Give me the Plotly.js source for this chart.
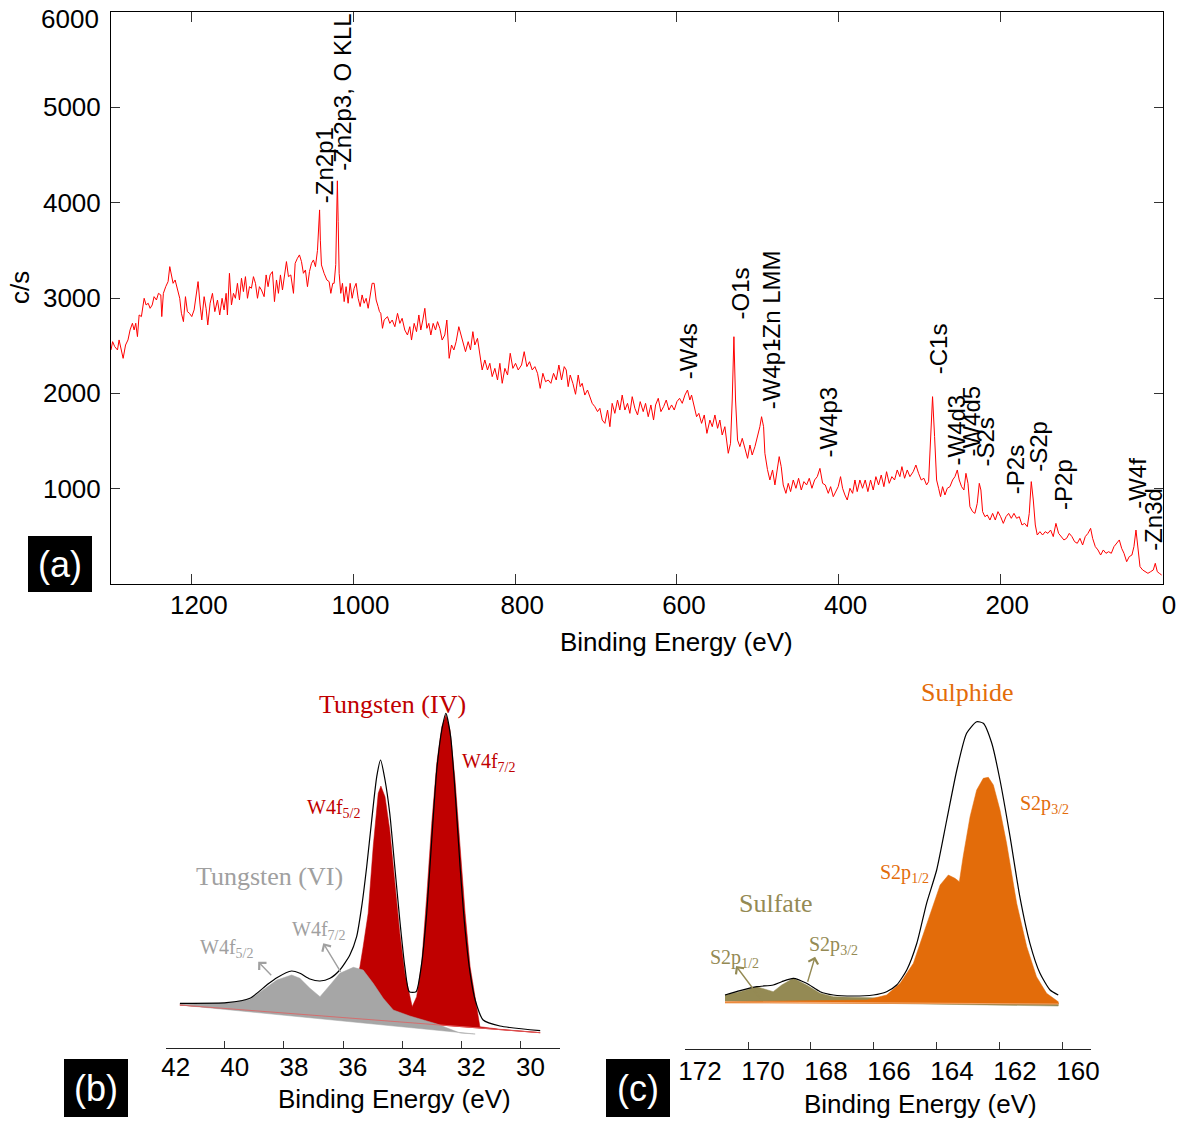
<!DOCTYPE html>
<html><head><meta charset="utf-8">
<script src="https://cdn.plot.ly/plotly-3.0.1.min.js"></script>
<style>html,body{margin:0;padding:0;background:#fff}</style>
</head><body><div id="chart" style="width:1177px;height:1124px"></div>
<script>
// ---------- (a) survey spectrum ----------
const surveyEV = [
1300.0,1298.0,1295.4,1292.0,1290.0,1287.0,1285.0,1282.0,1279.0,1276.4,
1273.5,1271.4,1269.4,1267.3,1265.2,1262.4,1259.0,1256.6,1254.0,1251.6,
1249.0,1246.7,1243.8,1241.3,1238.4,1237.2,1235.2,1232.3,1229.4,1227.3,
1225.2,1223.2,1220.7,1217.8,1215.0,1212.9,1210.4,1207.9,1205.5,1203.0,
1200.1,1197.2,1194.7,1192.3,1189.8,1187.7,1184.8,1182.4,1180.3,1177.4,
1174.5,1171.6,1168.3,1165.5,1162.6,1160.1,1157.6,1156.0,1153.5,1151.0,
1148.5,1146.1,1143.6,1141.1,1138.6,1136.2,1133.7,1131.2,1128.7,1126.3,
1123.8,1121.3,1118.8,1116.4,1113.9,1110.6,1108.1,1105.7,1103.2,1100.3,
1097.8,1095.3,1092.9,1090.4,1087.9,1085.4,1083.0,1080.5,1077.6,1074.3,
1072.2,1069.4,1066.9,1064.4,1062.0,1059.5,1057.0,1054.5,1052.0,1049.6,
1047.1,1044.6,1043.0,1042.0,1041.0,1039.7,1036.4,1033.0,1030.2,1028.1,
1025.7,1024.0,1022.0,1021.0,1020.0,1019.0,1017.8,1015.8,1013.7,1011.6,
1009.2,1006.7,1004.2,1001.7,999.3,996.8,994.3,991.8,989.4,986.9,
984.4,981.9,979.5,977.0,974.5,972.0,969.6,967.9,966.3,964.2,
962.1,958.0,955.1,952.2,948.9,945.6,942.7,939.9,936.6,933.3,
930.4,928.3,925.0,922.1,919.2,916.8,914.3,911.8,909.3,906.9,
904.4,901.5,898.6,896.1,893.3,890.4,887.1,884.6,881.7,878.8,
875.9,873.1,869.8,867.3,864.4,861.5,858.2,855.3,852.4,850.0,
846.7,843.8,840.9,837.6,834.3,831.4,828.5,825.2,821.9,819.0,
816.1,812.8,809.5,806.2,802.9,799.6,796.3,792.2,788.9,785.6,
782.3,779.0,775.7,772.4,769.1,765.8,762.5,759.2,755.9,752.6,
749.3,746.0,742.7,739.4,736.9,734.5,732.0,728.7,725.4,722.1,
719.6,717.2,713.9,710.6,707.7,704.8,701.5,698.2,695.3,692.4,
689.1,685.8,682.9,680.1,676.8,673.5,670.6,667.7,664.4,661.1,
658.2,655.3,652.0,648.7,645.4,641.7,638.8,635.5,632.2,628.9,
626.4,623.1,619.8,616.5,613.2,609.9,606.6,603.3,600.0,596.7,
593.4,590.1,586.9,584.0,581.9,578.6,575.7,572.9,569.5,566.2,
562.9,559.2,556.3,553.0,549.7,546.9,544.0,540.7,538.6,536.5,
533.7,531.6,529.5,527.5,525.0,522.1,519.2,515.9,512.6,509.7,
506.9,503.5,500.2,497.4,495.3,492.8,491.2,488.0,485.0,481.7,
478.8,475.9,473.5,471.0,468.5,465.2,462.3,459.4,456.1,452.8,
449.5,446.2,442.9,439.6,436.3,433.0,429.7,426.4,423.1,419.8,
416.5,412.8,409.9,406.6,403.3,400.5,397.6,395.1,392.2,389.3,
386.0,382.7,379.8,377.0,373.7,370.4,367.1,363.8,360.5,357.2,
353.9,350.6,347.3,344.0,340.7,337.4,334.1,330.8,327.5,324.2,
321.7,318.4,315.1,311.8,307.7,304.4,301.1,297.8,294.5,291.2,
288.7,286.2,283.8,281.3,278.8,276.3,273.9,271.4,268.5,265.6,
262.3,259.0,256.1,253.2,250.8,247.9,245.0,242.5,240.0,237.6,
234.3,231.4,228.5,226.0,224.0,221.9,219.0,216.1,212.8,209.5,
206.2,202.9,199.6,196.3,193.0,189.7,186.4,183.1,179.8,176.5,
173.2,169.9,166.6,164.2,161.7,159.2,156.7,154.3,151.0,147.7,
144.4,141.1,137.8,134.5,131.2,127.9,124.6,121.3,118.0,114.7,
111.4,108.1,104.8,101.5,98.2,94.9,91.6,88.3,85.8,82.5,
79.2,75.9,72.6,69.3,66.0,62.7,59.4,56.1,52.8,49.9,
47.0,43.7,40.5,37.2,34.7,32.2,29.7,27.2,23.9,20.6,
17.4,14.1,10.8,8.3,5.8,3.3,0.4];
const surveyCPS = [
2455,2542,2490,2455,2560,2455,2367,2507,2560,2665,
2735,2665,2735,2595,2822,2805,2997,2927,2945,2892,
2927,3014,2979,3049,3032,2805,3049,3119,3172,3329,
3224,3154,3189,3084,2997,2840,2752,3014,2857,2840,
2805,2875,3014,3172,2927,2770,3014,2892,2717,2945,
3049,2857,2979,2822,2997,2875,3049,2822,3259,2927,
3049,2997,3154,2979,3207,3067,3224,2997,3119,3102,
3224,3154,2997,3119,3084,3014,3242,3119,3242,3277,
2962,3189,3049,3242,3084,3224,3382,3224,3242,3049,
3364,3417,3452,3382,3259,3294,3119,3277,3364,3399,
3329,3500,3750,3924,3600,3347,3259,3189,3172,3049,
3154,3154,3350,3900,4229,3800,3259,3049,3154,2962,
3119,2945,3154,2997,3102,3154,2997,2910,3032,2945,
2997,2892,3049,3154,3154,2979,2910,2857,2840,2682,
2770,2804,2734,2769,2699,2839,2734,2787,2664,2612,
2699,2559,2734,2647,2822,2664,2769,2892,2682,2734,
2612,2734,2664,2752,2682,2559,2612,2769,2367,2507,
2455,2542,2699,2612,2524,2437,2542,2455,2647,2507,
2577,2420,2245,2350,2245,2315,2175,2262,2140,2315,
2105,2262,2192,2420,2262,2315,2245,2297,2437,2280,
2332,2245,2280,2210,2052,2210,2122,2140,2105,2210,
2140,2297,2140,2280,2245,2070,2192,2105,1990,2192,
2070,2105,1982,2035,1965,1895,1860,1808,1843,1720,
1685,1825,1650,1895,1790,1930,1825,1982,1825,1895,
1790,1965,1843,1773,1913,1808,1895,1755,1878,1720,
1878,1948,1808,1860,1930,1825,1878,1825,1913,1948,
1895,1982,2035,1930,1982,1843,1755,1790,1685,1773,
1580,1720,1650,1773,1633,1720,1563,1650,1510,1371,
1476,1930,2594,1930,1510,1441,1528,1406,1318,1458,
1353,1441,1545,1650,1755,1650,1371,1200,1091,1196,
1039,1196,1336,1231,1039,951,1056,969,1091,1004,
1109,986,1074,1039,1109,1004,1091,1126,1213,1056,
1039,951,1021,916,969,1021,1126,1004,934,881,
1004,951,1091,969,1091,1004,1091,969,1091,986,
1126,1039,1143,1021,1178,1056,1126,1091,1196,1126,
1231,1109,1196,1126,1178,1248,1161,1091,1109,1039,
1074,1546,1965,1546,1091,1004,916,1021,934,1004,
1021,1091,1126,1196,1091,1021,986,1161,1056,811,
759,741,846,1056,986,759,706,724,671,741,
671,759,706,636,706,741,689,741,689,706,
619,636,601,741,1074,881,619,514,549,514,
549,531,566,497,636,531,497,462,479,531,
497,444,427,479,409,497,531,584,479,392,
357,304,357,322,339,322,392,427,462,374,
322,234,287,304,392,566,392,182,147,129,
112,129,147,217,129,112,94];
const surveyTicks = [0,200,400,600,800,1000,1200];
const cpsTicks = [1000,2000,3000,4000,5000,6000];
const cpsTickText = ['1000','2000','3000','4000','5000',''];
const peakNames = ['-Zn2p1','-Zn2p3, O KLL','-W4s','-O1s','-W4p1','-Zn LMM','-W4p3','-C1s','-W4d3','-W4d5','-S2s','-P2s','-S2p','-P2p','-W4f','-Zn3d'];
const peakLabelEV = [1035,1013,585.6,521,483.6,483,413,277,253.6,235,217.7,181,153,122,30.5,10.7];
const peakLabelCPS = [3976,4308,2122,2752,1807,2465,1301,2175,1227,1311,1206,923,1154,755,766,325];

// ---------- (b) W4f region ----------
const w4fTicks = [30,32,34,36,38,40,42];
const bBaseEV = [41.52,29.33];
const bBaseY = [43,15.3];
const bRedEV = [41.52,37.46,36.44,35.93,35.60,35.43,35.32,35.15,34.98,34.81,34.72,34.58,34.42,34.25,34.08,33.91,33.74,33.66,33.51,33.34,33.17,33.00,32.83,32.66,32.52,32.38,32.21,32.04,31.87,31.70,31.53,31.37,30.69,29.33];
const bRedY = [43,36,40,48,63,81.3,101.3,134.7,201.3,254.7,262,251.3,218,168,114.7,74.7,51.3,41.3,51.3,84.7,151.3,224.7,284.7,321.3,333,318,268,201.3,134.7,81.3,48,21.3,18.7,15.3];
const bGrayEV = [41.52,39.94,39.15,38.58,38.24,37.74,37.46,37.12,36.78,36.44,36.11,35.65,35.32,34.98,34.64,34.30,33.74,32.82,32.04,31.53,41.52];
const bGrayY = [43.5,45,48.7,60.7,68,73,69.7,59.7,51.3,63,74.7,80.7,78,64.7,49.7,38,32,24,15,14,43];
const bEnvEV = [41.52,39.94,39.15,38.58,38.24,37.74,37.46,37.12,36.78,36.44,36.11,35.77,35.54,35.37,35.20,35.03,34.86,34.73,34.58,34.42,34.25,34.08,33.91,33.76,33.53,33.34,33.17,33.00,32.83,32.66,32.52,32.36,32.19,32.04,31.87,31.70,31.53,31.26,30.69,29.33];
const bEnvY = [44.7,45.3,49.7,63,70.3,77,74.7,69,67,69.7,78,93,111.3,141.3,181.3,228,271.3,288,268,234.7,181.3,128,81.3,56.3,56.3,84.7,134.7,208,278,318,334.7,311.3,248,181.3,118,74.7,48,28,22,17.3];

// ---------- (c) S2p region ----------
const s2pTicks = [160,162,164,166,168,170,172];
const cEnvEV = [170.73,170.25,169.72,169.20,168.93,168.56,168.14,167.71,167.29,166.66,166.02,165.60,165.28,164.96,164.64,164.33,164.01,163.69,163.37,163.06,162.74,162.53,162.26,162.00,161.68,161.37,161.05,160.73,160.41,160.15];
const cEnvY = [54,58.3,62.3,64,67.3,70.7,65.7,57.3,54,53,54,57.3,64,79,105.7,145.7,179,229,279,315.7,327.3,325.7,305.7,269,212.3,152.3,105.7,75.7,59,54];
const cOrangeEV = [170.73,166.23,165.60,165.17,164.75,164.43,164.12,163.90,163.64,163.43,163.29,163.17,162.95,162.74,162.53,162.37,162.21,162.00,161.79,161.47,161.15,160.84,160.52,160.15,160.15,170.73];
const cOrangeY = [47.3,49,54,65.7,85.7,115.7,145.7,164,174,170.7,167.3,192.3,232.3,259,270.7,271.7,264,239,205.7,145.7,102.3,72.3,55.7,47.3,45,46];
const cOliveEV = [170.73,170.25,169.72,169.20,168.93,168.56,168.14,167.71,167.29,165.81,163.59,162.00,160.15,160.15,170.73];
const cOliveY = [54,57.3,62.3,57.3,64,70.7,64,55.7,52.3,51,50,49,46,43,48];
const cBgEV = [170.73,160.15];
const cBgY = [47,45];

// ---------- layout helpers ----------
const W = 1177, H = 1124;
const PX = p => p / W, PY = p => 1 - p / H;
const SANS = 'Liberation Sans, Arial, sans-serif';
const SERIF = 'Liberation Serif, Times New Roman, serif';
const RED = '#c00000', GRAY = '#a0a0a0', ORANGE = '#e36c0a', OLIVE = '#948a54';

const traces = [
  {x: surveyEV, y: surveyCPS, xaxis:'x', yaxis:'y', mode:'lines', line:{color:'#ff0000', width:1}},
  {x: bBaseEV, y: bBaseY, xaxis:'x2', yaxis:'y2', mode:'lines', line:{color:'#e03030', width:1}},
  {x: bRedEV, y: bRedY, xaxis:'x2', yaxis:'y2', mode:'lines', fill:'tonexty', fillcolor:RED, line:{color:RED, width:0.5}},
  {x: bGrayEV, y: bGrayY, xaxis:'x2', yaxis:'y2', mode:'lines', fill:'toself', fillcolor:'#a6a6a6', line:{color:'#a6a6a6', width:0.5}},
  {x: bBaseEV, y: bBaseY, xaxis:'x2', yaxis:'y2', mode:'lines', line:{color:'#e06060', width:0.8}},
  {x: bEnvEV, y: bEnvY, xaxis:'x2', yaxis:'y2', mode:'lines', line:{color:'#000', width:1.2, shape:'spline', smoothing:0.6}},
  {x: cOliveEV, y: cOliveY, xaxis:'x3', yaxis:'y3', mode:'lines', fill:'toself', fillcolor:OLIVE, line:{color:OLIVE, width:0.5}},
  {x: cOrangeEV, y: cOrangeY, xaxis:'x3', yaxis:'y3', mode:'lines', fill:'toself', fillcolor:ORANGE, line:{color:ORANGE, width:0.5}},
  {x: cBgEV, y: cBgY, xaxis:'x3', yaxis:'y3', mode:'lines', line:{color:'#f3a46a', width:1.2}},
  {x: cEnvEV, y: cEnvY, xaxis:'x3', yaxis:'y3', mode:'lines', line:{color:'#000', width:1.2, shape:'spline', smoothing:0.6}}
];

const tickFont = {family:SANS, size:26, color:'#000'};
const baseX = {showgrid:false, zeroline:false, showline:true, linecolor:'#222', linewidth:1, ticks:'inside', tickcolor:'#333', tickwidth:1, tickfont:tickFont, tickmode:'array', automargin:false, ticklabeloverflow:'allow'};

const layout = {
  width:W, height:H, margin:{l:0,r:0,t:0,b:0}, paper_bgcolor:'#fff', plot_bgcolor:'rgba(0,0,0,0)',
  showlegend:false, font:{family:SANS, color:'#000'},
  xaxis: Object.assign({}, baseX, {domain:[PX(111), PX(1163)], range:[1300,-1.24], anchor:'y', tickvals:surveyTicks, ticklen:10, mirror:'ticks', linecolor:'#000', ticklabelshift:-7, ticklabelstandoff:-2}),
  yaxis: Object.assign({}, baseX, {domain:[PY(584), PY(12)], range:[0,6000], anchor:'x', tickvals:cpsTicks, ticktext:cpsTickText, ticklen:9, mirror:'ticks', linecolor:'#000', ticklabelstandoff:4}),
  yaxis4: {overlaying:'y', anchor:'x', side:'left', range:[0,6000], tickmode:'array', tickvals:cpsTicks, ticks:'outside', ticklen:5, tickcolor:'#333', showticklabels:false, showgrid:false, zeroline:false, showline:false},
  xaxis2: Object.assign({}, baseX, {domain:[PX(165.7), PX(560)], range:[42,28.66], anchor:'y2', tickvals:w4fTicks, ticklen:7, ticklabelshift:-10, ticklabelstandoff:-4}),
  yaxis2: {domain:[PY(1048), PY(680)], range:[0,368], anchor:'x2', visible:false},
  xaxis3: Object.assign({}, baseX, {domain:[PX(685), PX(1090.7)], range:[172,159.12], anchor:'y3', tickvals:s2pTicks, ticklen:7, ticklabelshift:-15, ticklabelstandoff:-1}),
  yaxis3: {domain:[PY(1049), PY(670)], range:[0,379], anchor:'x3', visible:false},
  shapes: [
    {type:'rect', xref:'paper', yref:'paper', x0:PX(28), x1:PX(92), y0:PY(592), y1:PY(536), fillcolor:'#000', line:{width:0}},
    {type:'rect', xref:'paper', yref:'paper', x0:PX(64), x1:PX(128), y0:PY(1117), y1:PY(1059), fillcolor:'#000', line:{width:0}},
    {type:'rect', xref:'paper', yref:'paper', x0:PX(606), x1:PX(670), y0:PY(1117), y1:PY(1059), fillcolor:'#000', line:{width:0}}
  ],
  annotations: []
};

const A = layout.annotations;
// top y tick label kept inside the page, as in the reference
A.push({text:'6000', xref:'paper', yref:'paper', x:PX(101), y:PY(19), xanchor:'right', yanchor:'middle', showarrow:false, font:tickFont});
// panel (a) peak labels
peakNames.forEach((t,i) => A.push({text:t, x:peakLabelEV[i], y:peakLabelCPS[i], xref:'x', yref:'y', textangle:-90, xanchor:'center', yanchor:'bottom', showarrow:false, font:{family:SANS, size:24, color:'#000'}}));
// axis titles
const titleFont = {family:SANS, size:26, color:'#000'};
A.push({text:'Binding Energy (eV)', xref:'paper', yref:'paper', x:PX(676), y:PY(642), xanchor:'center', yanchor:'middle', showarrow:false, font:titleFont});
A.push({text:'c/s', xref:'paper', yref:'paper', x:PX(20), y:PY(288), textangle:-90, xanchor:'center', yanchor:'middle', showarrow:false, font:titleFont});
A.push({text:'Binding Energy (eV)', xref:'paper', yref:'paper', x:PX(394), y:PY(1099), xanchor:'center', yanchor:'middle', showarrow:false, font:titleFont});
A.push({text:'Binding Energy (eV)', xref:'paper', yref:'paper', x:PX(920), y:PY(1104), xanchor:'center', yanchor:'middle', showarrow:false, font:titleFont});
// panel letters
[['(a)',60,564],['(b)',96,1088],['(c)',638,1088]].forEach(p => A.push({text:p[0], xref:'paper', yref:'paper', x:PX(p[1]), y:PY(p[2]), xanchor:'center', yanchor:'middle', showarrow:false, font:{family:SANS, size:36, color:'#fff'}}));
// panel (b) labels
const lb = (t,x,y,c,s,anc) => ({text:t, x:x, y:y, xref:'x2', yref:'y2', xanchor:anc, yanchor:'middle', showarrow:false, font:{family:SERIF, size:s, color:c}});
A.push(lb('Tungsten (IV)',34.33,344,RED,26,'center'));
A.push(lb('W4f<sub>5/2</sub>',37.29,240,RED,20,'left'));
A.push(lb('W4f<sub>7/2</sub>',32.04,286,RED,20,'left'));
A.push(lb('Tungsten (VI)',38.49,172,GRAY,26,'center'));
A.push(lb('W4f<sub>5/2</sub>',40.91,100,GRAY,20,'left'));
A.push(lb('W4f<sub>7/2</sub>',37.80,118,GRAY,20,'left'));
const arr = (xa,ya,hx,hy,tx,ty,c) => ({text:'', xref:xa, yref:ya, axref:xa, ayref:ya, x:hx, y:hy, ax:tx, ay:ty, showarrow:true, arrowhead:4, arrowsize:1.4, arrowwidth:1.4, arrowcolor:c, standoff:0, startstandoff:0});
A.push(arr('x2','y2',38.87,86.3,38.38,71.3,GRAY));
A.push(arr('x2','y2',36.67,104.7,36.05,74.7,GRAY));
// panel (c) labels
const lc = (t,x,y,c,s,anc) => ({text:t, x:x, y:y, xref:'x3', yref:'y3', xanchor:anc, yanchor:'middle', showarrow:false, font:{family:SERIF, size:s, color:c}});
A.push(lc('Sulphide',163.06,357,ORANGE,26,'center'));
A.push(lc('S2p<sub>3/2</sub>',161.43,245,ORANGE,20,'left'));
A.push(lc('S2p<sub>1/2</sub>',165.87,176,ORANGE,20,'left'));
A.push(lc('Sulfate',169.10,146,OLIVE,26,'center'));
A.push(lc('S2p<sub>3/2</sub>',168.13,104,OLIVE,20,'left'));
A.push(lc('S2p<sub>1/2</sub>',171.27,91,OLIVE,20,'left'));
A.push(arr('x3','y3',170.38,83,169.57,49,OLIVE));
A.push(arr('x3','y3',167.87,92.3,168.12,65.7,OLIVE));

Plotly.newPlot('chart', traces, layout, {staticPlot:true, displayModeBar:false});
</script></body></html>
